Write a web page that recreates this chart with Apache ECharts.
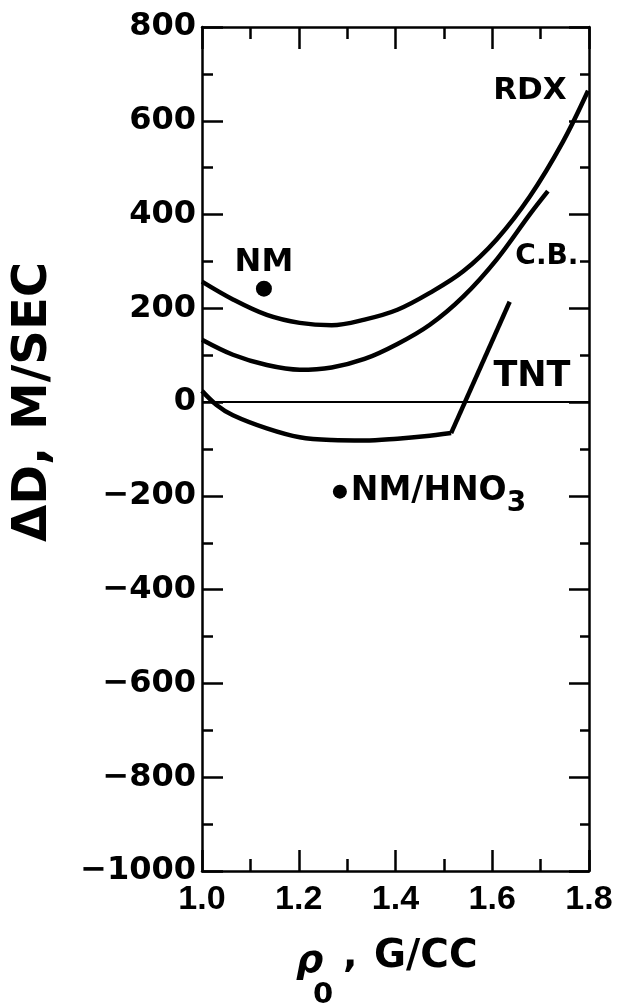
<!DOCTYPE html>
<html>
<head>
<meta charset="utf-8">
<script src="https://cdn.jsdelivr.net/npm/echarts@6/dist/echarts.min.js"></script>
<style>
html,body{margin:0;padding:0;background:#fff;}
#chart{width:618px;height:1005px;}
</style>
</head>
<body>
<div id="chart"></div>
<script>
// ---- data ----
const rdxRho = [1.000,1.064,1.134,1.202,1.268,1.336,1.404,1.471,1.540,1.609,1.678,1.746,1.798];
const rdxD   = [257,219,186,169,164,176,197,233,279,347,439,555,664];
const cbRho  = [1.000,1.064,1.134,1.202,1.268,1.336,1.404,1.471,1.540,1.609,1.678,1.715];
const cbD    = [133,101,79,69,74,92,124,165,225,304,401,450];
const tntRho = [1.000,1.030,1.064,1.134,1.202,1.268,1.336,1.404,1.460,1.515];
const tntD   = [24,-6,-28,-56,-75,-81,-82,-78,-73,-66];
const tntRiseRho = [1.515,1.636];
const tntRiseD   = [-66,214];
const nmPoint     = [1.128, 242];
const nmHno3Point = [1.285, -191];
const xTicks = ['1.0','1.2','1.4','1.6','1.8'];
const yTicks = ['800','600','400','200','0','-200','-400','-600','-800','-1000'];

const pair = (xs, ys) => xs.map((x, i) => [x, ys[i]]);
const black = '#000';
const lblFont = 'DejaVu Sans';

const chart = echarts.init(document.getElementById('chart'), null, {renderer: 'canvas'});

const axisCommon = {
  axisLine: {show: true, onZero: false, lineStyle: {color: black, width: 2.5}},
  splitLine: {show: false}
};

function textMark(coord, text, size) {
  return {
    coord: coord,
    symbolSize: 0,
    label: {
      show: true, position: 'inside', formatter: text,
      color: black, fontFamily: lblFont, fontWeight: 'bold', fontSize: size
    }
  };
}
const curveStyle = {color: black, width: 4.5};

const option = {
  backgroundColor: '#fff',
  animation: false,
  grid: {left: 202, right: 29, top: 27, bottom: 134},
  xAxis: [
    Object.assign({
      type: 'value', min: 1.0, max: 1.8, interval: 0.2, position: 'bottom',
      axisTick: {show: true, inside: true, length: 21, lineStyle: {color: black, width: 2.5}},
      minorTick: {show: true, splitNumber: 2, length: 12, lineStyle: {color: black, width: 2.5}},
      axisLabel: {
        show: true, margin: 12, color: black, fontFamily: 'Liberation Sans', fontWeight: 'bold', fontSize: 34,
        formatter: v => { const s = v.toFixed(1); return xTicks.includes(s) ? s : ''; }
      }
    }, axisCommon),
    Object.assign({
      type: 'value', min: 1.0, max: 1.8, interval: 0.2, position: 'top',
      axisTick: {show: true, inside: true, length: 22, lineStyle: {color: black, width: 2.5}},
      minorTick: {show: true, splitNumber: 2, length: 12, lineStyle: {color: black, width: 2.5}},
      axisLabel: {show: false}
    }, axisCommon)
  ],
  yAxis: [
    Object.assign({
      type: 'value', min: -1000, max: 800, interval: 200, position: 'left',
      axisTick: {show: true, inside: true, length: 21, lineStyle: {color: black, width: 2.5}},
      minorTick: {show: true, splitNumber: 2, length: 11, lineStyle: {color: black, width: 2.5}},
      axisLabel: {
        show: true, margin: 6, color: black, fontFamily: lblFont, fontWeight: 'bold', fontSize: 32,
        formatter: v => { const s = String(Math.round(v)); return yTicks.includes(s) ? s.replace('-', '−') : ''; }
      }
    }, axisCommon),
    Object.assign({
      type: 'value', min: -1000, max: 800, interval: 200, position: 'right',
      axisTick: {show: true, inside: true, length: 20, lineStyle: {color: black, width: 2.5}},
      minorTick: {show: true, splitNumber: 2, length: 9, lineStyle: {color: black, width: 2.5}},
      axisLabel: {show: false}
    }, axisCommon)
  ],
  graphic: [
    {type: 'text', x: 34, y: 402, rotation: Math.PI / 2, silent: true,
     style: {text: 'ΔD, M/SEC', fill: black, font: 'bold 48px "DejaVu Sans"', textAlign: 'center', textVerticalAlign: 'middle'}},
    {type: 'text', x: 296, y: 962, silent: true,
     style: {text: 'ρ', fill: black, font: 'italic bold 38px "DejaVu Sans"', textAlign: 'left', textVerticalAlign: 'middle'}},
    {type: 'text', x: 313, y: 995, silent: true,
     style: {text: '0', fill: black, font: 'bold 29px "DejaVu Sans"', textAlign: 'left', textVerticalAlign: 'middle'}},
    {type: 'text', x: 343, y: 957, silent: true,
     style: {text: ',', fill: black, font: 'bold 38px "DejaVu Sans"', textAlign: 'left', textVerticalAlign: 'middle'}},
    {type: 'text', x: 374, y: 957, silent: true,
     style: {text: 'G/CC', fill: black, font: 'bold 39px "DejaVu Sans"', textAlign: 'left', textVerticalAlign: 'middle'}}
  ],
  series: [
    {
      name: 'RDX', type: 'line', data: pair(rdxRho, rdxD), smooth: 0.35, showSymbol: false,
      lineStyle: curveStyle, silent: true, z: 3,
      markLine: {
        silent: true, symbol: 'none', label: {show: false},
        lineStyle: {color: black, width: 2, type: 'solid'},
        data: [{yAxis: 0}]
      },
      markPoint: {data: [textMark([1.678, 664], 'RDX', 31)]}
    },
    {
      name: 'C.B.', type: 'line', data: pair(cbRho, cbD), smooth: 0.35, showSymbol: false,
      lineStyle: curveStyle, silent: true, z: 3,
      markPoint: {data: [textMark([1.713, 311], 'C.B.', 28)]}
    },
    {
      name: 'TNT', type: 'line', data: pair(tntRho, tntD), smooth: 0.35, showSymbol: false,
      lineStyle: curveStyle, silent: true, z: 3,
      markPoint: {data: [textMark([1.682, 54], 'TNT', 35)]}
    },
    {
      name: 'TNT', type: 'line', data: pair(tntRiseRho, tntRiseD), smooth: false, showSymbol: false,
      lineStyle: curveStyle, silent: true, z: 3
    },
    {
      name: 'NM', type: 'scatter', data: [nmPoint], symbol: 'circle', symbolSize: 16,
      itemStyle: {color: black, opacity: 1}, silent: true,
      label: {show: true, position: 'top', distance: 2, formatter: 'NM',
        color: black, fontFamily: lblFont, fontWeight: 'bold', fontSize: 32}
    },
    {
      name: 'NM/HNO3', type: 'scatter', data: [nmHno3Point], symbol: 'circle', symbolSize: 14,
      itemStyle: {color: black, opacity: 1}, silent: true,
      label: {show: true, position: 'right', distance: 4, formatter: '{a|NM/HNO}{s|3}',
        rich: {
          a: {color: black, fontFamily: lblFont, fontWeight: 'bold', fontSize: 33},
          s: {color: black, fontFamily: lblFont, fontWeight: 'bold', fontSize: 28, padding: [24,0,0,0]}
        }}
    }
  ]
};
chart.setOption(option);
</script>
</body>
</html>
